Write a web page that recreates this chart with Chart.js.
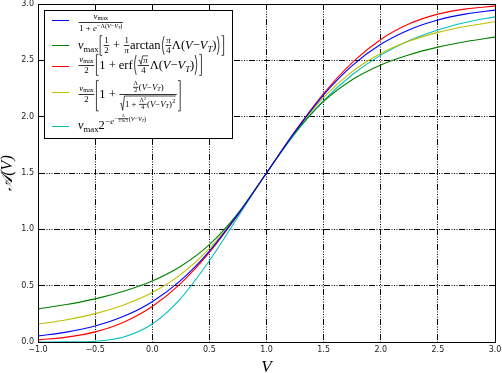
<!DOCTYPE html>
<html>
<head>
<meta charset="utf-8">
<script src="https://cdn.jsdelivr.net/npm/chart.js@4"></script>
<style>
  html, body { margin: 0; padding: 0; background: #fff; }
  canvas { display: block; }
</style>
</head>
<body>
<canvas id="chart" width="502" height="373"></canvas>
<script>
// values (V on x, firing rate on y)
const voltages = [-1, -0.75, -0.5, -0.25, 0, 0.25, 0.5, 0.75, 1, 1.25, 1.5, 1.75, 2, 2.25, 2.5, 2.75, 3];
const logistic = [0.054, 0.088, 0.142, 0.228, 0.358, 0.547, 0.807, 1.133, 1.5, 1.867, 2.193, 2.453, 2.642, 2.772, 2.858, 2.912, 2.946];
const arctanCurve = [0.294, 0.333, 0.383, 0.450, 0.541, 0.672, 0.864, 1.142, 1.5, 1.858, 2.136, 2.328, 2.459, 2.550, 2.617, 2.667, 2.706];
const erfCurve = [0.019, 0.043, 0.090, 0.176, 0.315, 0.521, 0.796, 1.131, 1.5, 1.869, 2.204, 2.479, 2.685, 2.824, 2.910, 2.957, 2.981];
const algebraic = [0.158, 0.198, 0.252, 0.329, 0.439, 0.600, 0.829, 1.136, 1.5, 1.864, 2.171, 2.400, 2.561, 2.671, 2.748, 2.802, 2.842];
const gompertz = [0.000, 0.001, 0.007, 0.045, 0.160, 0.388, 0.721, 1.110, 1.5, 1.850, 2.142, 2.372, 2.546, 2.676, 2.770, 2.838, 2.886];

const seriesColors = ['#0000ff', '#008000', '#ff0000', '#bfbf00', '#00bfbf'];
const seriesData = [logistic, arctanCurve, erfCurve, algebraic, gompertz];

const xTicks = [-1, -0.5, 0, 0.5, 1, 1.5, 2, 2.5, 3];
const yTicks = [0, 0.5, 1, 1.5, 2, 2.5, 3];

function fmtTick(v) {
  return v.toFixed(1).replace('-', '\u2212');
}

// ---- tiny math-text layout, for the legend labels ----
const SERIF = '"Liberation Serif", "DejaVu Serif", serif';
const txt = (s, it) => ({ k: 't', s, it });
const row = (...a) => ({ k: 'r', a });
const sub = (b, s) => ({ k: 'sub', b, s });
const sup = (b, s) => ({ k: 'sup', b, s });
const frac = (n, d) => ({ k: 'f', n, d });
const sqrt = (b) => ({ k: 'sq', b });
const brk = (o, c, b) => ({ k: 'br', o, c, b });

function delim(ctx, ch, x, top, bot, bw, s) {
  ctx.beginPath();
  if (ch === '[') {
    ctx.moveTo(x + bw * 0.85, top); ctx.lineTo(x + bw * 0.35, top);
    ctx.lineTo(x + bw * 0.35, bot); ctx.lineTo(x + bw * 0.85, bot);
  } else if (ch === ']') {
    ctx.moveTo(x + bw * 0.15, top); ctx.lineTo(x + bw * 0.65, top);
    ctx.lineTo(x + bw * 0.65, bot); ctx.lineTo(x + bw * 0.15, bot);
  } else if (ch === '(') {
    ctx.moveTo(x + bw * 0.8, top);
    ctx.quadraticCurveTo(x + bw * 0.05, (top + bot) / 2, x + bw * 0.8, bot);
  } else {
    ctx.moveTo(x + bw * 0.2, top);
    ctx.quadraticCurveTo(x + bw * 0.95, (top + bot) / 2, x + bw * 0.2, bot);
  }
  ctx.lineWidth = Math.max(0.7, s * 0.06);
  ctx.stroke();
}

function box(ctx, n, s, x, y, paint) {
  if (n.k === 't') {
    ctx.font = (n.it ? 'italic ' : '') + s + 'px ' + SERIF;
    const w = ctx.measureText(n.s).width;
    if (paint) ctx.fillText(n.s, x, y);
    return { w, a: 0.68 * s, d: 0.16 * s };
  }
  if (n.k === 'r') {
    let w = 0, a = 0, d = 0;
    for (const c of n.a) {
      const m = box(ctx, c, s, x + w, y, paint);
      w += m.w; a = Math.max(a, m.a); d = Math.max(d, m.d);
    }
    return { w, a, d };
  }
  if (n.k === 'sub') {
    const b = box(ctx, n.b, s, x, y, paint);
    const t = box(ctx, n.s, s * 0.7, x + b.w, y + 0.2 * s, paint);
    return { w: b.w + t.w, a: b.a, d: Math.max(b.d, t.d + 0.2 * s) };
  }
  if (n.k === 'sup') {
    const b = box(ctx, n.b, s, x, y, paint);
    const up = Math.max(0.4 * s, b.a - 0.3 * s);
    const t = box(ctx, n.s, s * 0.7, x + b.w + 0.03 * s, y - up, paint);
    return { w: b.w + t.w + 0.03 * s, a: Math.max(b.a, t.a + up), d: b.d };
  }
  if (n.k === 'f') {
    const ss = s * 0.7;
    const nn = box(ctx, n.n, ss, 0, 0, false);
    const dd = box(ctx, n.d, ss, 0, 0, false);
    const w = Math.max(nn.w, dd.w) + 0.2 * s;
    const axis = 0.28 * s, g = 0.1 * s;
    if (paint) {
      ctx.fillRect(x + 0.05 * s, y - axis - 0.4, w - 0.1 * s, Math.max(0.8, s * 0.06));
      box(ctx, n.n, ss, x + (w - nn.w) / 2, y - axis - g - nn.d, true);
      box(ctx, n.d, ss, x + (w - dd.w) / 2, y - axis + g + dd.a, true);
    }
    return { w, a: axis + g + nn.d + nn.a, d: -axis + g + dd.a + dd.d };
  }
  if (n.k === 'sq') {
    const m = box(ctx, n.b, s, 0, 0, false);
    const top = y - m.a - 0.12 * s, bot = y + m.d;
    const sw = 0.55 * s;
    if (paint) {
      ctx.beginPath();
      ctx.moveTo(x + 0.02 * s, bot - (bot - top) * 0.45);
      ctx.lineTo(x + 0.14 * s, bot - (bot - top) * 0.5);
      ctx.lineTo(x + 0.3 * s, bot);
      ctx.lineTo(x + 0.5 * s, top);
      ctx.lineTo(x + sw + m.w + 0.05 * s, top);
      ctx.lineWidth = Math.max(0.7, s * 0.06);
      ctx.stroke();
      box(ctx, n.b, s, x + sw, y, true);
    }
    return { w: m.w + sw + 0.1 * s, a: m.a + 0.15 * s, d: m.d };
  }
  if (n.k === 'br') {
    const m = box(ctx, n.b, s, 0, 0, false);
    const a = Math.max(m.a, 0.72 * s) + 0.05 * s, d = Math.max(m.d, 0.22 * s) + 0.05 * s;
    const bw = 0.35 * s;
    if (paint) {
      delim(ctx, n.o, x, y - a, y + d, bw, s);
      box(ctx, n.b, s, x + bw, y, true);
      delim(ctx, n.c, x + bw + m.w, y - a, y + d, bw, s);
    }
    return { w: m.w + 2 * bw, a, d };
  }
}

const nuMax = sub(txt('\u03bd', true), txt('max'));
const vDiff = () => row(txt('('), txt('V', true), txt('\u2212'), sub(txt('V', true), txt('T', true)), txt(')'));

const legendLabels = [
  frac(nuMax, row(txt('1 + '), sup(txt('e', true), row(txt('\u2212\u039b'), vDiff())))),
  row(nuMax, brk('[', ']', row(frac(txt('1'), txt('2')), txt(' + '), frac(txt('1'), txt('\u03c0', true)),
    txt('arctan'), brk('(', ')', row(frac(txt('\u03c0', true), txt('4')), txt('\u039b'), vDiff()))))),
  row(frac(nuMax, txt('2')), brk('[', ']', row(txt('1 + erf'),
    brk('(', ')', row(frac(sqrt(txt('\u03c0', true)), txt('4')), txt('\u039b'), vDiff()))))),
  row(frac(nuMax, txt('2')), brk('[', ']', row(txt('1 + '),
    frac(row(frac(txt('\u039b'), txt('2')), vDiff()),
      sqrt(row(txt('1 + '), frac(sup(txt('\u039b'), txt('2')), txt('4')), sup(vDiff(), txt('2')))))))),
  row(nuMax, sup(txt('2'), row(txt('\u2212'), sup(txt('e', true),
    row(txt('\u2212'), frac(txt('\u039b'), txt('2 ln 2')), vDiff())))))
];
const legendLineY = [20, 45, 66, 92, 126];
const legendBaseY = [26, 49, 69, 98, 129];

const frameAndLegend = {
  id: 'frameAndLegend',
  afterDraw(chart) {
    const { ctx, chartArea: a } = chart;
    ctx.save();
    ctx.strokeStyle = '#000';
    ctx.lineWidth = 1;
    ctx.setLineDash([]);
    ctx.strokeRect(Math.round(a.left) + 0.5, Math.round(a.top) + 0.5,
      Math.round(a.right - a.left), Math.round(a.bottom - a.top));

    // legend box
    ctx.fillStyle = '#fff';
    ctx.fillRect(44, 10, 188, 128);
    ctx.strokeRect(44.5, 10.5, 188, 128);
    legendLabels.forEach((lab, i) => {
      ctx.strokeStyle = seriesColors[i];
      ctx.lineWidth = 1;
      ctx.beginPath();
      ctx.moveTo(52, legendLineY[i] + 0.5);
      ctx.lineTo(69, legendLineY[i] + 0.5);
      ctx.stroke();
      ctx.fillStyle = '#000';
      ctx.strokeStyle = '#000';
      ctx.textBaseline = 'alphabetic';
      ctx.textAlign = 'left';
      box(ctx, lab, 12.5, 78, legendBaseY[i], true);
    });
    ctx.restore();
  }
};

const gridDash = [6, 1.5, 1, 1.5, 1, 1.5, 1, 1.5];

new Chart(document.getElementById('chart'), {
  type: 'line',
  data: {
    datasets: seriesData.map((vals, i) => ({
      data: vals.map((v, j) => ({ x: voltages[j], y: v })),
      borderColor: seriesColors[i],
      borderWidth: 1.1,
      pointRadius: 0,
      fill: false,
      cubicInterpolationMode: 'monotone'
    }))
  },
  options: {
    responsive: false,
    animation: false,
    devicePixelRatio: 1,
    layout: { padding: { top: 4, right: 7, left: 0, bottom: 0 } },
    plugins: { legend: { display: false }, tooltip: { enabled: false } },
    scales: {
      x: {
        type: 'linear',
        min: -1, max: 3,
        afterBuildTicks: s => { s.ticks = xTicks.map(v => ({ value: v })); },
        afterFit: s => { s.height = 31; s.paddingLeft = 0; s.paddingRight = 0; },
        ticks: { callback: fmtTick, color: '#222', font: { family: '"DejaVu Sans"', size: 8 }, padding: 3, maxRotation: 0 },
        grid: { color: '#000', lineWidth: 1, drawTicks: false },
        border: { display: true, color: '#000', dash: gridDash },
        title: { display: true, text: 'V', color: '#000', font: { family: SERIF, size: 17, style: 'italic', lineHeight: 1 }, padding: { top: 0, bottom: -3 } }
      },
      y: {
        min: 0, max: 3,
        afterBuildTicks: s => { s.ticks = yTicks.map(v => ({ value: v })); },
        afterFit: s => { s.width = 38; s.paddingTop = 0; s.paddingBottom = 0; },
        ticks: { callback: fmtTick, color: '#222', font: { family: '"DejaVu Sans"', size: 8 }, padding: 4 },
        grid: { color: '#000', lineWidth: 1, drawTicks: false },
        border: { display: true, color: '#000', dash: gridDash },
        title: { display: true, text: '\ud835\udc9c(V)', color: '#000', font: { family: SERIF, size: 16, style: 'italic', lineHeight: 1 }, padding: { top: 0, bottom: 0 } }
      }
    }
  },
  plugins: [frameAndLegend]
});
</script>
</body>
</html>
